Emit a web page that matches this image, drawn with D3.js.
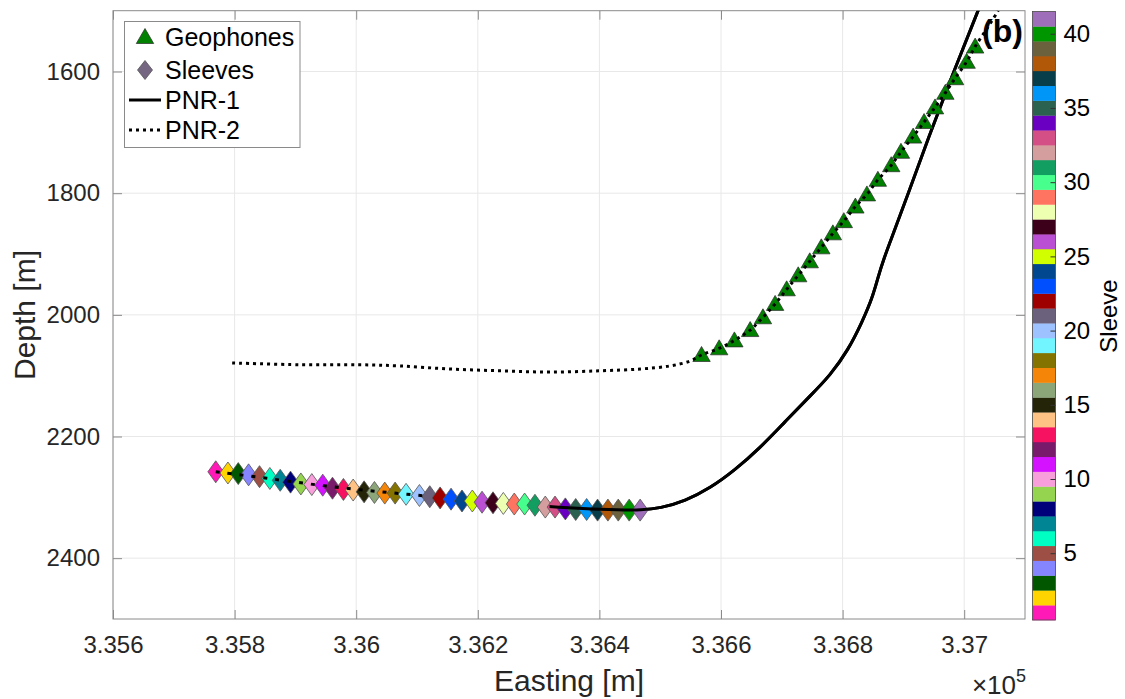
<!DOCTYPE html>
<html>
<head>
<meta charset="utf-8">
<script src="https://cdn.jsdelivr.net/npm/d3@7"></script>
<style>
body { margin: 0; background: #fff; }
svg { font-family: "Liberation Sans", Arial, Helvetica, sans-serif; }
</style>
</head>
<body>
<svg width="1125" height="699"></svg>
<script>
// sleeves along PNR-1 (easting m, depth m)
const sleeveEasting = [335769, 335789, 335806, 335823, 335841, 335858, 335875, 335892, 335909, 335927,
    335945, 335961, 335979, 335995, 336013, 336030, 336047, 336064, 336082, 336104,
    336121, 336138, 336156, 336174, 336191, 336207, 336225, 336242, 336260, 336277,
    336294, 336311, 336327, 336344, 336361, 336379, 336397, 336414, 336431, 336449, 336467];
const sleeveDepth = [2258, 2260, 2261, 2263, 2266, 2269, 2272, 2275, 2278, 2279,
    2280, 2285, 2287, 2288, 2291, 2292, 2293, 2293, 2295, 2297,
    2299, 2301, 2303, 2306, 2306, 2308, 2309, 2310, 2311, 2311,
    2313, 2316, 2316, 2319, 2320, 2320, 2321, 2321, 2321, 2321, 2321];
const sleeveColors = ['#ff1ab8', '#ffd400', '#005700', '#8585ff', '#9e4f45', '#00ffc2', '#008594', '#00007a',
    '#94d44f', '#f79edb', '#d412ff', '#7a1a6b', '#f71261', '#ffc285', '#242408', '#8ca67a',
    '#f58508', '#857300', '#73f5ff', '#9ec2ff', '#6b617d', '#9e0000', '#004fff', '#00478f',
    '#d2ff00', '#ba4fd4', '#3d001a', '#edffb0', '#ff7361', '#47ff8c', '#129e61', '#d49e9e',
    '#d44f85', '#6900c2', '#2b614f', '#0096f7', '#083d4a', '#b05708', '#6b613d', '#009600', '#9e6eba'];

// geophones along PNR-2
const geoEasting = [336568, 336597, 336622, 336648, 336669, 336689, 336708, 336727, 336746, 336765,
    336784, 336802, 336821, 336840, 336858, 336880, 336896, 336916, 336934, 336952,
    336969, 336985, 337004, 337018];
const geoDepth = [2066, 2055, 2042, 2025, 2004, 1982, 1958, 1935, 1912, 1889,
    1866, 1846, 1822, 1802, 1778, 1754, 1732, 1707, 1683, 1659,
    1635, 1611, 1584, 1559];

// well paths
const pnr1Easting = [335769, 335850, 335950, 336050, 336150, 336250, 336350, 336440, 336467, 336500,
    336541, 336582, 336623, 336664, 336705, 336747, 336780, 336809, 336832, 336849,
    336858, 336868, 336882, 336906, 336941, 336985, 337030];
const pnr1Depth = [2258, 2268, 2282, 2292, 2301, 2310, 2318, 2321, 2321, 2318,
    2306, 2285, 2255, 2219, 2176, 2133, 2099, 2058, 2012, 1972,
    1939, 1907, 1870, 1806, 1709, 1594, 1482];
const pnr2Easting = [335796, 335908, 336006, 336072, 336154, 336237, 336319, 336401, 336467, 336516,
    336549, 336568, 336597, 336622, 336648, 336669, 336689, 336708, 336727, 336746,
    336765, 336784, 336802, 336821, 336840, 336858, 336880, 336896, 336916, 336934,
    336952, 336969, 336985, 337004, 337018, 337039, 337056];
const pnr2Depth = [2079, 2082, 2082, 2084, 2089, 2092, 2094, 2092, 2089, 2084,
    2076, 2066, 2055, 2042, 2025, 2004, 1982, 1958, 1935, 1912,
    1889, 1866, 1846, 1822, 1802, 1778, 1754, 1732, 1707, 1683,
    1659, 1635, 1611, 1584, 1559, 1527, 1500];

const xTicks = [335600, 335800, 336000, 336200, 336400, 336600, 336800, 337000];
const yTicks = [1600, 1800, 2000, 2200, 2400];
const cbTicks = [5, 10, 15, 20, 25, 30, 35, 40];

const plotLeft = 113, plotRight = 1025, plotTop = 10.7, plotBottom = 619;
const frameColor = '#8a8a8a';
const fontFamily = '"Liberation Sans", Arial, Helvetica, sans-serif';

const xScale = d3.scaleLinear().domain([335600, 337100]).range([plotLeft, plotRight]);
const yScale = d3.scaleLinear().domain([1500, 2500]).range([plotTop, plotBottom]);
const cbScale = d3.scaleLinear().domain([0.5, 41.5]).range([620, 11.5]);

const svg = d3.select('svg');
const defs = svg.append('defs');

defs.append('clipPath').attr('id', 'plotClip')
    .append('rect')
    .attr('x', plotLeft).attr('y', plotTop)
    .attr('width', plotRight - plotLeft).attr('height', plotBottom - plotTop);

// grid
const grid = svg.append('g');
grid.selectAll('.gx').data(xTicks).enter().append('line')
    .attr('x1', d => xScale(d)).attr('x2', d => xScale(d))
    .attr('y1', plotTop).attr('y2', plotBottom)
    .attr('stroke', '#e8e8e8').attr('stroke-width', 1);
grid.selectAll('.gy').data(yTicks).enter().append('line')
    .attr('x1', plotLeft).attr('x2', plotRight)
    .attr('y1', d => yScale(d)).attr('y2', d => yScale(d))
    .attr('stroke', '#e8e8e8').attr('stroke-width', 1);

// axes
const styleAxis = (g) => {
    g.select('.domain').remove();
    g.selectAll('.tick line').attr('stroke', frameColor);
    g.selectAll('.tick text').attr('fill', '#262626').attr('font-size', 24)
        .attr('font-family', fontFamily);
};

svg.append('g').attr('transform', `translate(0,${plotBottom})`)
    .call(d3.axisBottom(xScale).tickValues(xTicks).tickSizeInner(-9).tickSizeOuter(0).tickPadding(17)
        .tickFormat(d => d3.format('.3~f')(d / 1e5)))
    .call(styleAxis);
svg.append('g').attr('transform', `translate(0,${plotTop})`)
    .call(d3.axisTop(xScale).tickValues(xTicks).tickSizeInner(-9).tickSizeOuter(0).tickFormat(''))
    .call(styleAxis);
svg.append('g').attr('transform', `translate(${plotLeft},0)`)
    .call(d3.axisLeft(yScale).tickValues(yTicks).tickSizeInner(-9).tickSizeOuter(0).tickPadding(13)
        .tickFormat(d3.format('d')))
    .call(styleAxis);
svg.append('g').attr('transform', `translate(${plotRight},0)`)
    .call(d3.axisRight(yScale).tickValues(yTicks).tickSizeInner(-9).tickSizeOuter(0).tickFormat(''))
    .call(styleAxis);

svg.append('rect')
    .attr('x', plotLeft).attr('y', plotTop)
    .attr('width', plotRight - plotLeft).attr('height', plotBottom - plotTop)
    .attr('fill', 'none').attr('stroke', frameColor).attr('stroke-width', 1);

// plot content
const plot = svg.append('g').attr('clip-path', 'url(#plotClip)');

const line1 = d3.line().x(d => xScale(d[0])).y(d => yScale(d[1])).curve(d3.curveBasis);
const line2 = d3.line().x(d => xScale(d[0])).y(d => yScale(d[1])).curve(d3.curveCatmullRom.alpha(0.5));
const pnr1 = pnr1Easting.map((e, i) => [e, pnr1Depth[i]]);
const pnr2 = pnr2Easting.map((e, i) => [e, pnr2Depth[i]]);

const diamond = 'M0,-11L7.9,0L0,11L-7.9,0Z';
const triangle = 'M0,-8.5L8.7,6.5L-8.7,6.5Z';

// PNR-1 underneath the sleeves
plot.append('path').attr('d', line1(pnr1))
    .attr('fill', 'none').attr('stroke', '#000').attr('stroke-width', 3);

plot.selectAll('.sleeve')
    .data(sleeveEasting)
    .enter()
    .append('path')
    .classed('sleeve', true)
    .attr('d', diamond)
    .attr('transform', (d, i) => `translate(${xScale(d)},${yScale(sleeveDepth[i])})`)
    .attr('fill', (d, i) => sleeveColors[i])
    .attr('stroke', '#555').attr('stroke-width', 0.8);

// part of PNR-1 that shows over the sleeves
defs.append('clipPath').attr('id', 'overRight')
    .append('rect').attr('x', xScale(336318)).attr('y', plotTop)
    .attr('width', plotRight - xScale(336318)).attr('height', plotBottom - plotTop);
defs.append('clipPath').attr('id', 'overLeft')
    .append('rect').attr('x', xScale(335760)).attr('y', plotTop)
    .attr('width', xScale(336115) - xScale(335760)).attr('height', plotBottom - plotTop);
plot.append('path').attr('d', line1(pnr1)).attr('clip-path', 'url(#overRight)')
    .attr('fill', 'none').attr('stroke', '#000').attr('stroke-width', 3);
plot.append('path').attr('d', line1(pnr1)).attr('clip-path', 'url(#overLeft)')
    .attr('fill', 'none').attr('stroke', '#000').attr('stroke-width', 3)
    .attr('stroke-dasharray', '4,8');

plot.selectAll('.geo')
    .data(geoEasting)
    .enter()
    .append('path')
    .classed('geo', true)
    .attr('d', triangle)
    .attr('transform', (d, i) => `translate(${xScale(d)},${yScale(geoDepth[i])})`)
    .attr('fill', '#008200')
    .attr('stroke', '#2a2a2a').attr('stroke-width', 0.7);

plot.append('path').attr('d', line2(pnr2))
    .attr('fill', 'none').attr('stroke', '#000').attr('stroke-width', 3)
    .attr('stroke-dasharray', '3,4');

svg.append('text').attr('x', 982).attr('y', 42)
    .attr('font-size', 32).attr('font-weight', 'bold').text('(b)');

// legend
const legend = svg.append('g');
legend.append('rect').attr('x', 124.5).attr('y', 21.5).attr('width', 175.5).attr('height', 126)
    .attr('fill', '#fff').attr('stroke', frameColor).attr('stroke-width', 1);
legend.append('path').attr('d', triangle).attr('transform', 'translate(145,37)')
    .attr('fill', '#008200').attr('stroke', '#2a2a2a').attr('stroke-width', 0.7);
legend.append('path').attr('d', 'M0,-9.5L7.5,0L0,9.5L-7.5,0Z').attr('transform', 'translate(145,70)')
    .attr('fill', '#756681').attr('stroke', '#555').attr('stroke-width', 0.8);
legend.append('line').attr('x1', 129).attr('x2', 161).attr('y1', 100).attr('y2', 100)
    .attr('stroke', '#000').attr('stroke-width', 3);
legend.append('line').attr('x1', 129).attr('x2', 161).attr('y1', 130).attr('y2', 130)
    .attr('stroke', '#000').attr('stroke-width', 3).attr('stroke-dasharray', '3,4');
const legendLabels = ['Geophones', 'Sleeves', 'PNR-1', 'PNR-2'];
const legendRows = [37, 70, 100, 130];
legend.selectAll('.ltext').data(legendLabels).enter().append('text')
    .attr('x', 165).attr('y', (d, i) => legendRows[i] + 9)
    .attr('font-size', 25).attr('fill', '#000').text(d => d);

// axis labels
svg.append('text').attr('transform', 'translate(35,315) rotate(-90)')
    .attr('text-anchor', 'middle').attr('font-size', 30).attr('fill', '#262626').text('Depth [m]');
svg.append('text').attr('x', 569).attr('y', 691)
    .attr('text-anchor', 'middle').attr('font-size', 30).attr('fill', '#262626').text('Easting [m]');
const mult = svg.append('text').attr('x', 1026).attr('y', 694)
    .attr('text-anchor', 'end').attr('font-size', 26).attr('fill', '#262626');
mult.append('tspan').text('×10');
mult.append('tspan').attr('font-size', 18).attr('dy', -12).text('5');

// colorbar
const cbLeft = 1032.5, cbRight = 1055.5;
const cb = svg.append('g');
cb.selectAll('.cbcell')
    .data(sleeveColors)
    .enter()
    .append('rect')
    .attr('x', cbLeft)
    .attr('y', (d, i) => cbScale(i + 1.5))
    .attr('width', cbRight - cbLeft)
    .attr('height', (d, i) => cbScale(i + 0.5) - cbScale(i + 1.5) + 0.3)
    .attr('fill', d => d);
cb.append('rect').attr('x', cbLeft).attr('y', cbScale(41.5))
    .attr('width', cbRight - cbLeft).attr('height', cbScale(0.5) - cbScale(41.5))
    .attr('fill', 'none').attr('stroke', '#4a4a4a').attr('stroke-width', 0.8);
cb.append('g').attr('transform', `translate(${cbRight},0)`)
    .call(d3.axisRight(cbScale).tickValues(cbTicks).tickSizeInner(-5).tickSizeOuter(0).tickPadding(8))
    .call(g => {
        g.select('.domain').remove();
        g.selectAll('.tick line').attr('stroke', '#333');
        g.selectAll('.tick text').attr('fill', '#000').attr('font-size', 24)
            .attr('font-family', fontFamily);
    });
svg.append('text').attr('transform', 'translate(1117,316) rotate(-90)')
    .attr('text-anchor', 'middle').attr('font-size', 24).attr('fill', '#000').text('Sleeve');
</script>
</body>
</html>
